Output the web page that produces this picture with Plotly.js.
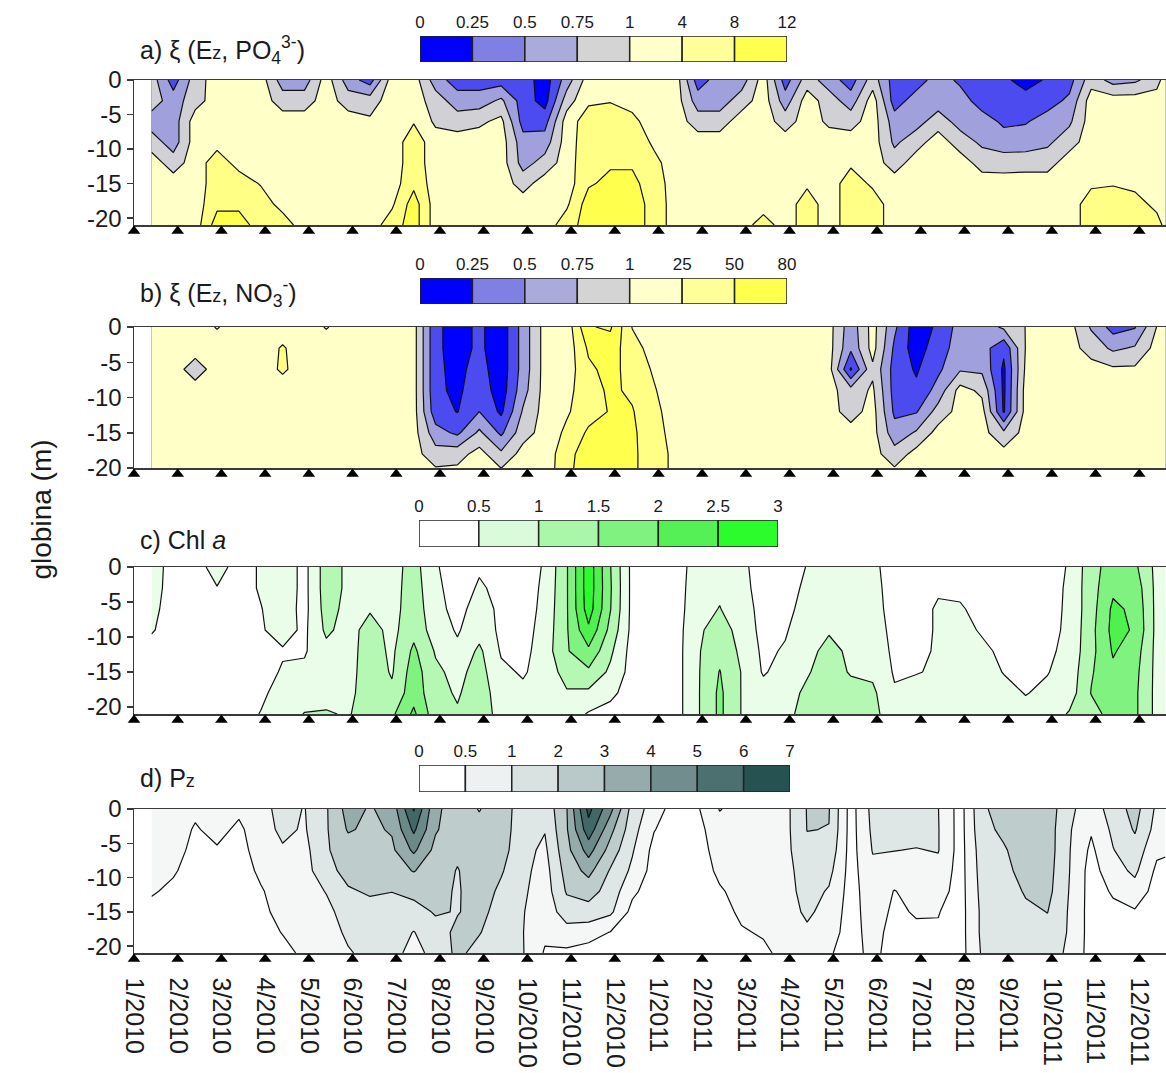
<!DOCTYPE html>
<html>
<head>
<meta charset="utf-8">
<script src="https://cdn.plot.ly/plotly-3.0.1.min.js"></script>
<style>
  html, body { margin: 0; padding: 0; background: #ffffff; }
  #chart { width: 1166px; height: 1073px; }
</style>
</head>
<body>
<div id="chart"></div>
<script>
// Profile columns: months since January 2010
const months = [0.4, 0.9, 1.4, 1.9, 2.4, 2.9, 3.4, 3.9, 4.4, 4.9, 5.4, 5.9, 6.4, 6.9, 7.4, 7.9,
  8.4, 8.9, 9.4, 9.9, 10.4, 10.9, 11.4, 11.9, 12.4, 12.9, 13.4, 13.9, 14.4, 14.9, 15.4, 15.9,
  16.4, 16.9, 17.4, 17.9, 18.4, 18.9, 19.4, 19.9, 20.4, 20.9, 21.4, 21.9, 22.4, 22.9, 23.4, 23.6];
// Sampling depths (m)
const depths = [0, -3, -6, -9, -12, -15, -18, -21];
const depthTicks = [0, -5, -10, -15, -20];
const depthTickLabels = ['0', '-5', '-10', '-15', '-20'];
// Sampling cruises (one per month) and their labels
const sampleMonths = [0, 1, 2, 3, 4, 5, 6, 7, 8, 9, 10, 11, 12, 13, 14, 15, 16, 17, 18, 19, 20, 21, 22, 23];
const monthLabels = ['1/2010', '2/2010', '3/2010', '4/2010', '5/2010', '6/2010', '7/2010', '8/2010',
  '9/2010', '10/2010', '11/2010', '12/2010', '1/2011', '2/2011', '3/2011', '4/2011', '5/2011',
  '6/2011', '7/2011', '8/2011', '9/2011', '10/2011', '11/2011', '12/2011'];

// a) xi (Ez, PO4 3-)
const levelsPO4 = [0, 0.25, 0.5, 0.75, 1, 4, 8, 12];
const labelsPO4 = ['0', '0.25', '0.5', '0.75', '1', '4', '8', '12'];
const colorsPO4 = ['#0000ff', '#8080e4', '#aaaadb', '#d4d4d4', '#ffffcc', '#ffff99', '#ffff4d'];
const zPO4 = [
  [0.88,0.38,0.88,2.5,2.5,2.5,0.62,0.62,2.5,0.62,0.38,2.5,2.5,0.62,0.38,0.38,0.38,0.38,0.12,0.62,2.5,2.5,2.5,2.5,2.5,0.38,0.62,0.62,2.5,0.38,0.88,0.62,0.38,0.88,0.38,0.38,0.62,0.45,0.38,0.3,0.15,0.28,0.4,0.9,0.65,0.7,0.9,2.5],
  [0.88,0.62,0.9,2.5,2.5,2.5,0.88,0.88,2.5,0.88,0.88,2.5,2.5,0.88,0.62,0.62,0.8,0.38,0.15,0.88,3.5,3.8,3,2.5,2.5,0.62,0.62,0.88,2.5,0.62,2.5,0.88,0.62,2.5,0.38,0.62,0.62,0.62,0.38,0.38,0.35,0.4,0.55,2.5,2.5,2.5,2.5,2.5],
  [0.62,0.62,2.5,2.5,2.5,2.5,2.5,2.5,2.5,2.5,1.5,2.5,3.8,0.95,0.88,0.95,1.8,0.4,0.4,2.5,6,6.5,5,2.5,2.5,0.88,0.88,2.5,2.5,0.88,2.5,0.95,0.9,2.5,0.62,0.65,0.88,0.65,0.62,0.45,0.48,0.6,0.7,2.5,2.5,2.5,2.5,2.5],
  [0.88,0.62,2.5,3,2.5,2.5,2.5,2.5,2.5,2.5,2.5,2.5,6,2.5,2.5,2.5,2.5,0.6,0.62,2.5,6.5,7,6.5,3.5,2.5,2.5,2.5,2.5,2.5,2.5,2.5,2.5,2.5,2.5,0.7,0.9,2.5,0.88,0.7,0.62,0.62,0.7,0.9,2.5,2.5,2.5,2.5,2.5],
  [2.5,0.88,2.5,6,3,2.5,2.5,2.5,2.5,2.5,2.5,2.5,6,2.5,2.5,2.5,2.5,0.65,0.85,2.5,7,7.5,7.5,5,2.5,2.5,2.5,2.5,2.5,2.5,2.5,2.5,3.5,2.5,0.88,2.5,2.5,2.5,0.9,0.88,0.9,0.9,2.5,2.5,2.5,2.5,2.5,2.5],
  [2.5,2.5,2.5,6,6,3.8,2.5,2.5,2.5,2.5,2.5,2.5,7,2.5,2.5,2.5,2.5,0.9,2.5,2.5,7.5,9,9,6,2.5,2.5,2.5,2.5,2.5,2.5,3.5,2.5,6,3.5,2.5,2.5,2.5,2.5,2.5,2.5,2.5,2.5,2.5,3.5,3.8,3.5,2.5,2.5],
  [2.5,2.5,2.5,7,7,6,3,2.5,2.5,2.5,2.5,3.5,10,2.5,2.5,2.5,2.5,2.5,2.5,3.5,10,10,10,6.5,2.5,2.5,2.5,2.5,2.5,2.5,6,2.5,6,6,2.5,2.5,2.5,2.5,2.5,2.5,2.5,2.5,2.5,6,6,5,3.5,2.5],
  [2.5,2.5,2.5,10,10,6,6,2.5,3.5,2.5,2.5,6,10,2.5,2.5,2.5,2.5,2.5,2.5,6,10,10.5,10,6.5,2.5,2.5,2.5,2.5,6,2.5,6,2.5,6,6,2.5,2.5,2.5,2.5,2.5,2.5,2.5,2.5,2.5,6,6,5.5,5,3.5]
];

// b) xi (Ez, NO3-)
const levelsNO3 = [0, 0.25, 0.5, 0.75, 1, 25, 50, 80];
const labelsNO3 = ['0', '0.25', '0.5', '0.75', '1', '25', '50', '80'];
const colorsNO3 = ['#0000ff', '#8080e4', '#aaaadb', '#d4d4d4', '#ffffcc', '#ffff99', '#ffff4d'];
const zNO3 = [
  [10,10,10,27,10,10,10,10,27,10,10,10,10,0.3,0.15,0.3,0.1,0.6,10,10,78,84,24,10,10,10,10,10,10,10,10,10,0.6,10,0.55,0.1,0.3,0.6,0.6,0.8,1.5,10,10,0.72,0.4,0.48,1.5,10],
  [10,10,10,10,10,10,28,10,10,10,10,10,10,0.3,0.15,0.3,0.1,0.6,10,10,55,65,35,15,10,10,10,10,10,10,10,10,0.55,10,0.45,0.12,0.4,0.6,0.62,0.3,2,10,10,0.9,0.7,0.78,10,10],
  [10,10,0.9,10,10,10,30,10,10,10,10,10,10,0.3,0.18,0.35,0.1,0.6,10,12,45,60,40,22,10,10,10,10,10,10,10,10,0.22,0.95,0.4,0.22,0.45,0.72,0.7,0.2,5,10,10,10,5,5,10,10],
  [10,10,10,10,10,10,10,10,10,10,10,10,10,0.3,0.2,0.4,0.12,0.65,10,18,40,55,46,27,10,10,10,10,10,10,10,10,0.85,5,0.4,0.3,0.6,10,0.95,0.2,10,10,10,10,10,10,10,10],
  [10,10,10,10,10,10,10,10,10,10,10,10,10,0.35,0.24,0.5,0.2,0.78,10,22,40,52,52,32,12,10,10,10,10,10,10,10,0.9,10,0.45,0.48,0.85,10,10,0.22,10,10,10,10,10,10,10,10],
  [10,10,10,10,10,10,10,10,10,10,10,10,10,0.6,0.45,0.8,0.45,0.9,10,30,55,62,55,35,15,10,10,10,10,10,10,10,10,10,0.6,0.78,10,10,10,0.8,10,10,10,10,10,10,10,10],
  [10,10,10,10,10,10,10,10,10,10,10,10,10,0.85,0.9,10,0.8,10,10,42,65,65,55,38,18,10,10,10,10,10,10,10,10,10,0.85,10,10,10,10,10,10,10,10,10,10,10,10,10],
  [10,10,10,10,10,10,10,10,10,10,10,10,10,10,10,10,10,10,10,45,65,65,55,38,18,10,10,10,10,10,10,10,10,10,10,10,10,10,10,10,10,10,10,10,10,10,10,10]
];

// c) Chl a
const levelsChl = [0, 0.5, 1, 1.5, 2, 2.5, 3];
const labelsChl = ['0', '0.5', '1', '1.5', '2', '2.5', '3'];
const colorsChl = ['#ffffff', '#dafbda', '#aaf7aa', '#80f280', '#55f055', '#2bfc2b'];
const zChl = [
  [0.8,0.25,0.3,0.7,0.3,0.55,0.8,0.35,1.25,0.9,0.75,0.8,1.2,0.55,0.25,0.45,0.3,0.25,0.55,1.45,2.8,1.52,0.35,0.25,0.3,0.7,0.8,0.6,0.3,0.25,0.52,0.7,0.75,0.6,0.3,0.3,0.35,0.3,0.25,0.25,0.2,0.25,0.55,1.3,1.75,1.6,0.85,0.85],
  [0.75,0.25,0.3,0.48,0.3,0.55,0.8,0.35,1.25,0.9,0.8,0.8,1.25,0.6,0.3,0.55,0.4,0.25,0.6,1.45,2.8,1.55,0.35,0.25,0.3,0.75,0.9,0.65,0.3,0.3,0.6,0.75,0.8,0.65,0.3,0.3,0.45,0.4,0.3,0.25,0.25,0.25,0.6,1.3,1.9,1.8,0.85,0.85],
  [0.65,0.25,0.3,0.3,0.3,0.48,0.75,0.35,1.2,0.85,0.95,0.8,1.3,0.65,0.35,0.7,0.4,0.25,0.65,1.45,2.75,1.52,0.35,0.25,0.3,0.8,1.02,0.7,0.35,0.35,0.7,0.85,0.8,0.7,0.3,0.35,0.55,0.55,0.35,0.3,0.25,0.3,0.6,1.3,2.1,1.9,0.85,0.85],
  [0.55,0.25,0.3,0.3,0.3,0.45,0.7,0.4,1.1,0.8,1.2,0.85,1.35,0.75,0.45,0.8,0.4,0.3,0.7,1.45,2.4,1.35,0.35,0.25,0.3,0.9,1.25,0.8,0.35,0.45,0.8,0.95,0.85,0.75,0.35,0.35,0.55,0.65,0.45,0.35,0.3,0.35,0.6,1.35,2.15,1.95,0.85,0.85],
  [0.3,0.25,0.3,0.3,0.3,0.3,0.45,0.45,0.85,0.8,1.25,0.9,1.6,0.95,0.6,1.1,0.45,0.35,0.75,1.45,1.9,1.1,0.3,0.25,0.3,0.95,1.35,0.9,0.4,0.55,0.85,1.15,0.9,0.8,0.4,0.4,0.55,0.7,0.6,0.4,0.35,0.4,0.65,1.35,2.05,1.75,0.85,0.85],
  [0.3,0.25,0.3,0.3,0.3,0.3,0.55,0.6,0.75,0.8,1.3,0.95,1.75,1.1,0.85,1.2,0.6,0.45,0.7,1.2,1.4,0.9,0.3,0.25,0.3,0.95,1.52,0.98,0.45,0.7,0.95,1.25,0.95,0.9,0.45,0.48,0.55,0.7,0.7,0.48,0.4,0.48,0.7,1.45,1.9,1.65,0.85,0.85],
  [0.3,0.25,0.3,0.3,0.3,0.4,0.7,0.75,0.8,0.85,1.3,1.1,1.8,1.15,0.95,1.25,0.75,0.6,0.65,0.95,0.9,0.6,0.3,0.25,0.3,0.95,1.6,0.98,0.7,0.8,1.1,1.25,1.2,1.1,0.55,0.65,0.7,0.75,0.75,0.65,0.48,0.6,0.75,1.52,1.8,1.6,0.85,0.85],
  [0.3,0.25,0.3,0.3,0.3,0.52,0.75,1.02,1.05,0.95,1.3,1.4,2.1,1.2,1.05,1.3,0.8,0.7,0.6,0.8,0.45,0.35,0.3,0.25,0.3,0.95,1.6,0.98,0.8,0.85,1.2,1.25,1.25,1.15,0.7,0.75,0.75,0.75,0.8,0.75,0.65,0.7,1.05,1.3,1.7,1.6,0.85,0.85]
];

// d) Pz
const levelsPz = [0, 0.5, 1, 2, 3, 4, 5, 6, 7];
const labelsPz = ['0', '0.5', '1', '2', '3', '4', '5', '6', '7'];
const colorsPz = ['#ffffff', '#edf1f1', '#d9e1e1', '#b9c9c9', '#96abab', '#718d8d', '#4c6f6f', '#265252'];
const zPz = [
  [0.8,0.8,0.6,0.75,0.6,0.85,1.3,0.98,1.9,3.4,2.9,3.4,6.1,3.2,2.5,1.95,2.6,1.4,1.3,2.95,6.3,4.3,1.6,0.75,0.25,0.45,1.05,0.8,0.8,0.85,2.05,2.05,0.3,1.3,1.4,1.4,1.02,0.3,1.8,2.5,2.7,2.6,1.2,0.75,1.4,2.4,0.9,0.85],
  [0.8,0.75,0.45,0.65,0.4,0.8,1.2,0.95,1.9,3.1,2.8,3.1,5.2,3.1,2.4,2.3,2.5,1.4,1.05,2.9,5.6,3.3,1.4,0.52,0.25,0.35,0.8,0.8,0.8,0.85,2.02,1.98,0.3,1.2,1.3,1.3,1.05,0.3,1.7,2.2,2.6,2.5,1.1,0.55,1.2,2.1,0.8,0.75],
  [0.75,0.7,0.35,0.45,0.3,0.75,0.95,0.85,1.9,2.5,2.6,2.8,4.2,2.7,2.2,2.5,2.4,1.3,0.9,2.7,4.4,2.6,1.1,0.35,0.25,0.3,0.7,0.75,0.8,0.85,1.8,1.7,0.3,1.05,1.02,0.98,1.05,0.3,1.5,1.9,2.5,2.5,1.05,0.4,0.98,1.6,0.6,0.55],
  [0.7,0.55,0.3,0.35,0.25,0.6,0.85,0.8,1.7,2.3,2.4,2.6,3.05,2.5,1.95,2.5,2.1,1.25,0.8,2.4,3.3,1.9,0.9,0.3,0.25,0.25,0.6,0.7,0.75,0.8,1.6,1.3,0.3,0.9,0.8,0.85,0.85,0.3,1.4,1.7,2.4,2.4,1.02,0.3,0.8,1.2,0.4,0.4],
  [0.55,0.4,0.25,0.3,0.2,0.45,0.75,0.75,1.05,1.9,2.1,2.02,2.3,2.3,1.9,2.5,1.8,1.15,0.75,2.1,2.4,1.6,0.6,0.25,0.25,0.2,0.45,0.65,0.7,0.8,1.4,0.95,0.3,0.8,0.48,0.7,0.7,0.3,1.3,1.5,2.1,2.3,0.98,0.3,0.55,0.8,0.3,0.3],
  [0.35,0.3,0.25,0.25,0.2,0.35,0.7,0.7,0.85,1.5,1.7,1.6,1.6,2.1,1.95,2.3,1.6,1.05,0.7,1.5,1.6,1.2,0.35,0.2,0.25,0.2,0.3,0.6,0.65,0.75,1.2,0.8,0.3,0.75,0.4,0.55,0.52,0.3,1.2,1.4,1.8,2.02,0.95,0.3,0.4,0.45,0.3,0.3],
  [0.3,0.25,0.2,0.2,0.2,0.3,0.52,0.7,0.75,1.2,1.4,1.5,0.98,1.6,2.2,2.05,1.5,1.02,0.6,0.8,0.7,0.48,0.25,0.2,0.25,0.2,0.25,0.45,0.55,0.7,0.9,0.7,0.3,0.7,0.3,0.4,0.45,0.3,1.2,1.3,1.5,1.7,0.95,0.3,0.3,0.3,0.3,0.3],
  [0.3,0.25,0.2,0.2,0.2,0.25,0.35,0.6,0.7,0.95,1.3,1.4,0.8,1.4,2.2,1.7,1.5,1.05,0.45,0.4,0.3,0.3,0.2,0.2,0.25,0.2,0.2,0.3,0.4,0.65,0.8,0.55,0.3,0.65,0.25,0.3,0.4,0.3,1.1,1.2,1.4,1.5,0.9,0.3,0.3,0.3,0.3,0.3]
];

// ---------------------------------------------------------------------------
const W = 1166, H = 1073;
const FONT = 'Liberation Sans, Arial, Helvetica, sans-serif';
const px2x = p => p / W;
const px2y = p => 1 - p / H;

// Uneven class breaks are drawn as equal-width bands: map a value onto its band index
function bandIndex(v, lv) {
  const n = lv.length - 1;
  if (v >= lv[n]) return n + (v - lv[n]) / (lv[n] - lv[n - 1]);
  for (let k = 0; k < n; k++) {
    if (v < lv[k + 1]) return k + (v - lv[k]) / (lv[k + 1] - lv[k]);
  }
  return n;
}

const panels = [
  { z: zPO4, levels: levelsPO4, labels: labelsPO4, colors: colorsPO4,
    title: 'a) ξ (E<span style="font-size:18px">z</span>, PO<sub>4</sub><sup>3-</sup>)',
    top: 80, bottom: 225, range: [-21, 0], titleY: 50,
    key: { x0: 420, x1: 787, y0: 36, y1: 62 } },
  { z: zNO3, levels: levelsNO3, labels: labelsNO3, colors: colorsNO3,
    title: 'b) ξ (E<span style="font-size:18px">z</span>, NO<sub>3</sub><sup>-</sup>)',
    top: 327, bottom: 468, range: [-20, 0], titleY: 293,
    key: { x0: 420, x1: 787, y0: 278, y1: 304 } },
  { z: zChl, levels: levelsChl, labels: labelsChl, colors: colorsChl,
    title: 'c) Chl <i>a</i>',
    top: 567, bottom: 714, range: [-21, 0], titleY: 540,
    key: { x0: 419, x1: 778, y0: 520, y1: 547 } },
  { z: zPz, levels: levelsPz, labels: labelsPz, colors: colorsPz,
    title: 'd) P<span style="font-size:18px">z</span>',
    top: 809, bottom: 953, range: [-21, 0], titleY: 778,
    key: { x0: 419, x1: 790, y0: 765, y1: 792 } }
];

const traces = [];
const layout = {
  width: W, height: H,
  margin: { l: 0, r: 0, t: 0, b: 0 },
  paper_bgcolor: '#ffffff',
  plot_bgcolor: '#ffffff',
  showlegend: false,
  bargap: 0,
  font: { family: FONT, color: '#1a1a1a' },
  annotations: [{
    text: 'globina (m)', xref: 'paper', yref: 'paper',
    x: px2x(24), y: px2y(510), textangle: -90, showarrow: false,
    font: { size: 28, family: FONT, color: '#1a1a1a' }
  }]
};

const MARK_STRIP = 12;   // px strip under each panel that holds the cruise markers
const MARK_SIZE = 11;

panels.forEach((p, i) => {
  const n = p.levels.length - 1;
  const ax = i === 0 ? '' : String(i + 1);
  const kx = String(i + 5);     // class key axes
  const mk = String(i + 9);     // cruise-marker strip axis

  // filled contour field
  const scale = p.colors.concat([p.colors[n - 1]]).map((c, k) => [k / n, c]);
  traces.push({
    type: 'contour', x: months, y: depths,
    z: p.z.map(row => row.map(v => bandIndex(v, p.levels))),
    xaxis: 'x' + ax, yaxis: 'y' + ax,
    autocontour: false,
    contours: { start: 1, end: n, size: 1, coloring: 'fill', showlines: true },
    colorscale: scale, zmin: 0, zmax: n, showscale: false,
    line: { color: '#111111', width: 1.2, smoothing: 0 },
    hoverinfo: 'skip'
  });

  // sampling cruises, marked just under the bottom axis line (apex touching it)
  traces.push({
    type: 'scatter', mode: 'markers',
    x: sampleMonths, y: sampleMonths.map(() => 1 - (MARK_SIZE / 2 + 0.5) / MARK_STRIP),
    xaxis: 'x' + ax, yaxis: 'y' + mk, cliponaxis: false,
    marker: { symbol: 'triangle-up', size: MARK_SIZE, color: '#000000', line: { width: 0 } },
    hoverinfo: 'skip'
  });

  layout['xaxis' + ax] = {
    domain: [px2x(134), px2x(1165.5)], anchor: 'y' + ax,
    range: [0, 23.6], showgrid: false, zeroline: false,
    showline: true, mirror: true, linecolor: '#3a3a3a', linewidth: 1.5,
    ticks: '', tickvals: sampleMonths, ticktext: monthLabels,
    showticklabels: i === 3, tickangle: 90, ticklabelstandoff: 18,
    tickfont: { size: 25, family: FONT, color: '#1a1a1a' }
  };
  layout['yaxis' + ax] = {
    domain: [px2y(p.bottom), px2y(p.top)], anchor: 'x' + ax,
    range: p.range, tickvals: depthTicks, ticktext: depthTickLabels,
    ticks: 'outside', ticklen: 6, tickwidth: 1.5, tickcolor: '#3a3a3a',
    showgrid: false, zeroline: false,
    showline: true, mirror: true, linecolor: '#3a3a3a', linewidth: 1.5,
    tickfont: { size: 24, family: FONT, color: '#1a1a1a' }
  };
  layout['yaxis' + mk] = {
    domain: [px2y(p.bottom + MARK_STRIP), px2y(p.bottom)], anchor: 'x' + ax,
    range: [0, 1], visible: false, showgrid: false, zeroline: false
  };

  // class key above the panel
  const centers = p.colors.map((c, k) => k + 0.5);
  traces.push({
    type: 'bar', x: centers, y: centers.map(() => 1), base: 0,
    width: centers.map(() => 1),
    marker: { color: p.colors, line: { color: '#222222', width: 1.5 } },
    xaxis: 'x' + kx, yaxis: 'y' + kx, hoverinfo: 'skip'
  });
  layout['xaxis' + kx] = {
    domain: [px2x(p.key.x0), px2x(p.key.x1)], anchor: 'y' + kx,
    range: [0, n], side: 'top', showgrid: false, zeroline: false, showline: false,
    ticks: '', tickvals: p.levels.map((v, k) => k), ticktext: p.labels,
    ticklabelstandoff: 4,
    tickfont: { size: 17, family: FONT, color: '#1a1a1a' }
  };
  layout['yaxis' + kx] = {
    domain: [px2y(p.key.y1), px2y(p.key.y0)], anchor: 'x' + kx,
    range: [0, 1], visible: false
  };

  layout.annotations.push({
    text: p.title, xref: 'paper', yref: 'paper',
    x: px2x(138), y: px2y(p.titleY), xanchor: 'left', yanchor: 'middle',
    showarrow: false, font: { size: 25, family: FONT, color: '#1a1a1a' }
  });
});

Plotly.newPlot('chart', traces, layout, { staticPlot: true, displayModeBar: false });
</script>
</body>
</html>
